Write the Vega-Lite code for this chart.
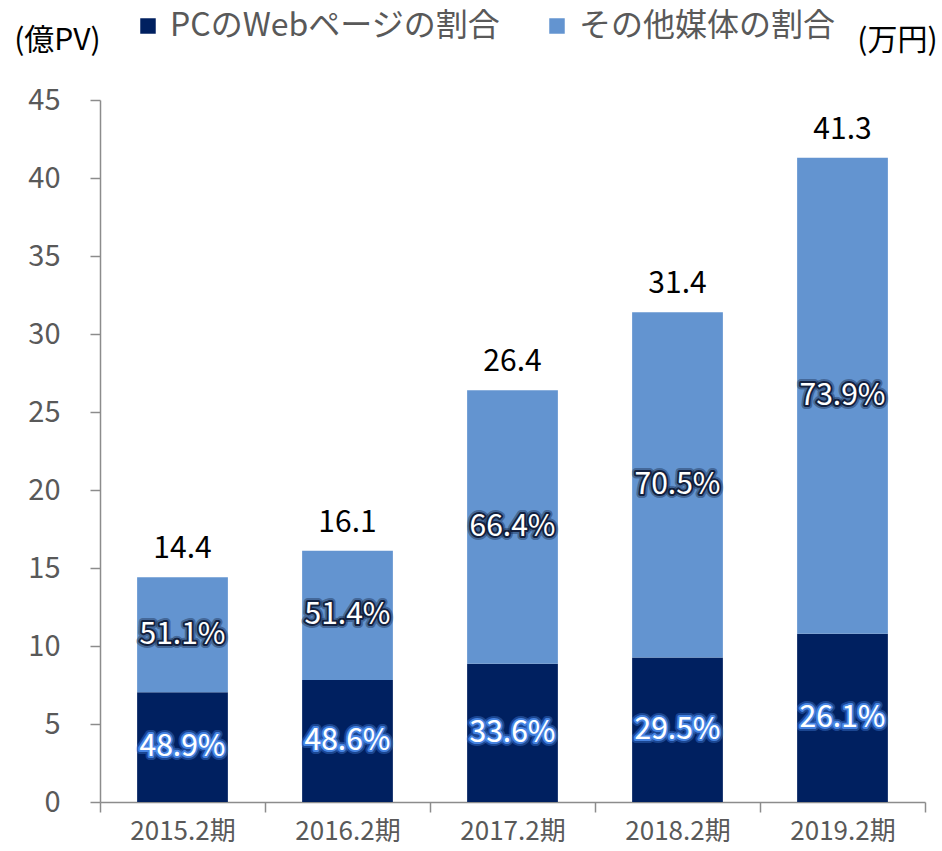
{
  "$schema": "https://vega.github.io/schema/vega-lite/v6.json",
  "width": 825,
  "height": 702,
  "autosize": {"type": "none"},
  "padding": {"left": 100, "top": 100, "right": 17, "bottom": 49},
  "background": "white",
  "config": {"font": "Noto Sans CJK JP", "view": {"stroke": null}},
  "data": {
    "values": [
      {"period": "2015.2期", "series": "PCのWebページの割合", "order": 1, "value": 7.04, "pct": "48.9%"},
      {"period": "2015.2期", "series": "その他媒体の割合", "order": 2, "value": 7.36, "pct": "51.1%"},
      {"period": "2016.2期", "series": "PCのWebページの割合", "order": 1, "value": 7.82, "pct": "48.6%"},
      {"period": "2016.2期", "series": "その他媒体の割合", "order": 2, "value": 8.28, "pct": "51.4%"},
      {"period": "2017.2期", "series": "PCのWebページの割合", "order": 1, "value": 8.87, "pct": "33.6%"},
      {"period": "2017.2期", "series": "その他媒体の割合", "order": 2, "value": 17.53, "pct": "66.4%"},
      {"period": "2018.2期", "series": "PCのWebページの割合", "order": 1, "value": 9.26, "pct": "29.5%"},
      {"period": "2018.2期", "series": "その他媒体の割合", "order": 2, "value": 22.14, "pct": "70.5%"},
      {"period": "2019.2期", "series": "PCのWebページの割合", "order": 1, "value": 10.78, "pct": "26.1%"},
      {"period": "2019.2期", "series": "その他媒体の割合", "order": 2, "value": 30.52, "pct": "73.9%"}
    ]
  },
  "encoding": {
    "x": {
      "field": "period",
      "type": "nominal",
      "sort": null,
      "scale": {"paddingInner": 0, "paddingOuter": 0},
      "axis": {
        "title": null,
        "labelAngle": 0,
        "labelFontSize": 26,
        "labelColor": "#595959",
        "labelPadding": 6,
        "domainColor": "#8C8C8C",
        "domainWidth": 1.5,
        "tickColor": "#8C8C8C",
        "tickWidth": 1.5,
        "tickSize": 10,
        "tickBand": "extent"
      }
    }
  },
  "layer": [
    {
      "mark": {"type": "bar", "width": {"band": 0.55}},
      "encoding": {
        "y": {
          "field": "value",
          "type": "quantitative",
          "stack": "zero",
          "scale": {"domain": [0, 45], "nice": false},
          "axis": {
            "values": [0, 5, 10, 15, 20, 25, 30, 35, 40, 45],
            "grid": false,
            "labelFontSize": 29,
            "labelColor": "#595959",
            "labelPadding": 30,
            "domainColor": "#8C8C8C",
            "domainWidth": 1.5,
            "tickColor": "#8C8C8C",
            "tickWidth": 1.5,
            "tickSize": 10,
            "title": "(億PV)",
            "titleAngle": 0,
            "titleFontSize": 30,
            "titleFontWeight": "normal",
            "titleColor": "#000000",
            "titleAlign": "center",
            "titleBaseline": "middle",
            "titleX": -43,
            "titleY": -60
          }
        },
        "order": {"field": "order", "type": "quantitative"},
        "color": {
          "field": "series",
          "type": "nominal",
          "scale": {"domain": ["PCのWebページの割合", "その他媒体の割合"], "range": ["#002060", "#6394D0"]},
          "legend": {
            "title": null,
            "orient": "none",
            "direction": "horizontal",
            "legendX": 32,
            "legendY": -90,
            "symbolType": "square",
            "symbolSize": 240,
            "symbolStrokeWidth": 0,
            "labelFontSize": 32,
            "labelLimit": 0,
            "labelColor": "#595959",
            "labelOffset": 6,
            "columnPadding": 40
          }
        }
      }
    },
    {
      "transform": [
        {"stack": "value", "groupby": ["period"], "sort": [{"field": "order"}], "as": ["y0", "y1"]},
        {"calculate": "(datum.y0 + datum.y1) / 2", "as": "mid"}
      ],
      "mark": {"type": "text", "fontSize": 30, "fill": "white", "strokeWidth": 8, "strokeOpacity": 0.35, "strokeJoin": "round", "baseline": "middle"},
      "encoding": {
        "y": {"field": "mid", "type": "quantitative", "scale": {"domain": [0, 45], "nice": false}, "axis": null},
        "text": {"field": "pct"},
        "stroke": {"field": "series", "type": "nominal", "scale": {"domain": ["PCのWebページの割合", "その他媒体の割合"], "range": ["#4F8FF0", "#0A1530"]}, "legend": null}
      }
    },
    {
      "transform": [
        {"stack": "value", "groupby": ["period"], "sort": [{"field": "order"}], "as": ["y0", "y1"]},
        {"calculate": "(datum.y0 + datum.y1) / 2", "as": "mid"}
      ],
      "mark": {"type": "text", "fontSize": 30, "fill": "white", "strokeWidth": 4, "strokeOpacity": 0.85, "strokeJoin": "round", "baseline": "middle"},
      "encoding": {
        "y": {"field": "mid", "type": "quantitative", "scale": {"domain": [0, 45], "nice": false}, "axis": null},
        "text": {"field": "pct"},
        "stroke": {"field": "series", "type": "nominal", "scale": {"domain": ["PCのWebページの割合", "その他媒体の割合"], "range": ["#4F8FF0", "#0A1530"]}, "legend": null}
      }
    },
    {
      "transform": [
        {"stack": "value", "groupby": ["period"], "sort": [{"field": "order"}], "as": ["y0", "y1"]},
        {"calculate": "(datum.y0 + datum.y1) / 2", "as": "mid"}
      ],
      "mark": {"type": "text", "fontSize": 30, "fill": "white", "baseline": "middle"},
      "encoding": {
        "y": {"field": "mid", "type": "quantitative", "scale": {"domain": [0, 45], "nice": false}, "axis": null},
        "text": {"field": "pct"}
      }
    },
    {
      "mark": {"type": "text", "fontSize": 30, "color": "#000000", "baseline": "bottom", "dy": -13},
      "encoding": {
        "y": {
          "aggregate": "sum",
          "field": "value",
          "type": "quantitative",
          "scale": {"domain": [0, 45], "nice": false},
          "axis": {
            "orient": "right",
            "domain": false,
            "ticks": false,
            "labels": false,
            "grid": false,
            "title": "(万円)",
            "titleAngle": 0,
            "titleFontSize": 30,
            "titleFontWeight": "normal",
            "titleColor": "#000000",
            "titleAlign": "center",
            "titleBaseline": "middle",
            "titleX": -28,
            "titleY": -60
          }
        },
        "text": {"aggregate": "sum", "field": "value", "type": "quantitative", "format": ".1f"}
      }
    }
  ],
  "resolve": {"scale": {"y": "independent", "stroke": "independent"}, "axis": {"y": "independent"}}
}
